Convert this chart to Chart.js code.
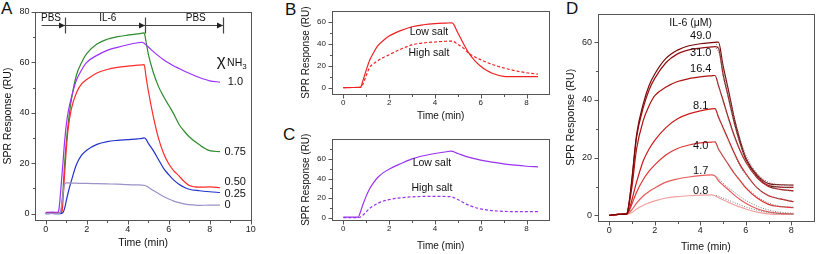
<!DOCTYPE html>
<html>
<head>
<meta charset="utf-8">
<script src="https://cdn.jsdelivr.net/npm/chart.js@4"></script>
<style>
  body { margin: 0; background: #fff; width: 817px; height: 254px; position: relative; overflow: hidden; font-family: "Liberation Sans", Arial, sans-serif; }
  canvas { position: absolute; }
  .tag { position: absolute; font-size: 17px; line-height: 1; color: #111; }
</style>
</head>
<body>
<div class="tag" style="left:1px;top:0px">A</div>
<div class="tag" style="left:285px;top:1px">B</div>
<div class="tag" style="left:283px;top:126px">C</div>
<div class="tag" style="left:566px;top:0px">D</div>
<canvas id="cA" width="262" height="254" style="left:0;top:0"></canvas>
<canvas id="cB" width="290" height="125" style="left:262px;top:0"></canvas>
<canvas id="cC" width="290" height="129" style="left:262px;top:125px"></canvas>
<canvas id="cD" width="261" height="254" style="left:556px;top:0"></canvas>
<script>
// --- panel A: SPR response vs NH3 fraction ---
const tA = [0, 0.3, 0.6, 0.65, 0.7, 0.75, 0.8, 0.85, 0.9, 0.95, 1.0, 1.1, 1.25, 1.5, 1.75, 2.0, 2.5, 3.0, 3.5, 4.0, 4.5, 4.7, 4.8, 4.9, 5.0, 5.25, 5.5, 5.75, 6.0, 6.25, 6.5, 6.75, 7.0, 7.5, 8.0, 8.5];
const aNH100 = [0.5, 0.6, 0.5, 2, 6, 11, 16, 21, 26.5, 31, 35, 40.5, 46, 53, 57, 60, 62.8, 64.8, 66, 67, 67.8, 68, 67.6, 66.9, 66.2, 64.3, 62.6, 61.1, 59.8, 58.6, 57.6, 56.6, 55.7, 54, 52.7, 52.2];
const aNH075 = [0.2, 0.4, 0.2, 0.2, 0.3, 0.6, 5, 10, 17, 23, 28, 36, 45, 55, 60, 63.5, 67.3, 69.2, 70.2, 70.8, 71.3, 71.6, 71.7, 68, 63.5, 56, 50.5, 46.5, 43, 39.5, 35.5, 32.8, 30.5, 27.3, 25, 24.6];
const aNH050 = [0.1, 0.2, 0.1, 0.1, 0.1, 0.2, 1, 6, 13, 19, 25, 34, 41.5, 48, 51.5, 53.2, 55.8, 57.2, 58, 58.5, 58.9, 59, 59.1, 54, 49, 38.5, 30, 24, 19.8, 17, 15, 12.8, 11.2, 10.5, 10.6, 10.3];
const aNH025 = [0, 0.1, 0, 0, 0, 0, 0.2, 0.5, 1.5, 3, 5, 8.5, 13, 19.5, 23.2, 25.2, 27.5, 28.6, 29.1, 29.4, 29.7, 29.9, 30.1, 29.5, 28, 25, 21.5, 18, 15.5, 13.3, 11.7, 10.5, 9.7, 9.1, 8.7, 8.4];
const aNH000 = [0, 0.1, 0, 0, 0.3, 2, 5, 8, 11, 12, 12.2, 12.2, 12.1, 12.1, 12, 12, 11.9, 11.8, 11.7, 11.5, 11.4, 11.3, 11.2, 11, 10.5, 9.2, 8, 6.8, 5.8, 5, 4.4, 3.9, 3.6, 3.3, 3.4, 3.4];
const aLabels = ['1.0', '0.75', '0.50', '0.25', '0'];
const aLabelX = [8.88, 8.72, 8.72, 8.72, 8.72];
const aLabelY = [52.2, 24.4, 12.6, 7.8, 3.4];
const phaseNames = ['PBS', 'IL-6', 'PBS'];
const phaseNameX = [0.26, 3.03, 7.32];
const phaseEdges = [0.94, 4.84, 8.63];
const phaseStart = -0.2;

// --- panel B / C: low vs high salt ---
const tB = [0, 0.4, 0.75, 0.85, 1.0, 1.15, 1.3, 1.5, 1.75, 2.0, 2.5, 3.0, 3.5, 4.0, 4.5, 4.75, 5.0, 5.25, 5.5, 5.75, 6.0, 6.25, 6.5, 7.0, 7.5, 8.0, 8.5];
const bLow = [0, 0.2, 0.3, 6, 16, 25, 31, 38, 43, 47, 52, 55.5, 57.3, 58.3, 58.8, 59, 50, 40, 31, 24.5, 19.5, 15.8, 13.2, 10.4, 10, 10, 10.1];
const bHigh = [0, 0.2, 0.3, 3, 11, 18.5, 21.5, 24.5, 27.5, 30, 35, 39, 40.8, 41.6, 42.3, 42.4, 39.5, 36, 31, 28, 25.5, 23.2, 21.2, 18, 15.5, 13.6, 12.3];
const tC = [0, 0.4, 0.65, 0.75, 0.85, 1.0, 1.15, 1.3, 1.5, 1.75, 2.0, 2.5, 3.0, 3.5, 4.0, 4.5, 4.7, 5.0, 5.5, 6.0, 6.5, 7.0, 7.5, 8.0, 8.5];
const cLow = [0.5, 0.5, 0.6, 6, 13, 22, 29.5, 35, 41, 46, 49.5, 55, 60, 63.2, 65.5, 67.3, 68, 65.5, 61.5, 58.7, 56.7, 55, 53.6, 52.5, 51.8];
const cHigh = [0, 0, 0, 0.8, 2.5, 6, 9.5, 12, 14.5, 17, 18.5, 20.3, 21.3, 21.7, 21.8, 21.6, 21.4, 18.5, 12.5, 9, 7.3, 6.5, 6.2, 6.1, 6.1];

// --- panel D: IL-6 concentration series + fits ---
const tD = [0, 0.4, 0.75, 0.8, 0.9, 1.0, 1.2, 1.5, 1.75, 2.0, 2.5, 3.0, 3.5, 4.0, 4.5, 4.65, 4.8, 5.0, 5.25, 5.5, 5.75, 6.0, 6.5, 7.0, 7.5, 8.1];
const d490 = [0, 0.3, 0.5, 1, 6, 13, 28, 38.8, 45, 49, 54.5, 57.3, 58.8, 59.5, 59.9, 60, 60.1, 52, 43, 33.5, 26, 20, 14, 11, 10.6, 10.5];
const d310 = [0, 0.3, 0.5, 1, 6, 12.5, 27, 37.5, 43.5, 47.5, 53, 56, 57.4, 58, 58.4, 58.5, 58, 49, 40.5, 32, 25, 19.5, 13.5, 10.3, 9.8, 9.7];
const d164 = [0, 0.3, 0.5, 1, 5, 10, 23, 33, 38, 41.5, 44.5, 46.4, 47.4, 48, 48.4, 48.5, 45, 40, 33.5, 27.5, 22.5, 18.5, 13, 10, 9, 8.5];
const d081 = [0, 0.3, 0.5, 0.8, 2.5, 5.5, 11.5, 19, 23, 26, 30.5, 33.5, 35.2, 36.2, 36.9, 37, 34, 30.5, 26, 21.5, 17.5, 14.5, 9.5, 6.8, 5.7, 4.7];
const d040 = [0, 0.3, 0.4, 0.6, 2, 4, 8, 12.5, 15.3, 17.5, 21, 23.2, 24.4, 25.1, 25.4, 25.5, 23, 20.5, 17.5, 14.5, 12, 9.5, 6, 3.8, 3.0, 2.7];
const d017 = [0, 0.3, 0.3, 0.5, 1.2, 2, 4.2, 6.8, 8.3, 9.5, 11.5, 12.6, 13.3, 13.8, 14, 13.6, 12, 10.5, 8.8, 7, 5.5, 4.2, 2.3, 1.2, 0.7, 0.5];
const d008 = [0, 0.3, 0.3, 0.4, 0.7, 1, 2.2, 3.5, 4.3, 5, 6, 6.5, 6.8, 7, 7.1, 6.8, 6.1, 5.4, 4.5, 3.6, 2.9, 2.2, 1.1, 0.5, 0.3, 0.3];
const tFit = [4.7, 4.85, 5.0, 5.25, 5.5, 5.75, 6.0, 6.5, 7.0, 7.5, 8.1];
const f490 = [59.5, 57, 51, 42, 33.5, 26.5, 21, 14.5, 11.5, 10.5, 10.2];
const f310 = [58, 55.5, 49, 40, 31.5, 25, 20, 14, 10.8, 9.8, 9.5];
const f164 = [48, 44, 39.5, 33, 27, 22.5, 18.5, 13.2, 10.2, 9, 8.3];
const f081 = [36.5, 33.5, 30, 25.5, 21, 17, 14, 9.5, 7, 5.8, 4.9];
const f040 = [25, 22.5, 20.5, 17.5, 14.8, 12.3, 10, 6.5, 4.3, 3.2, 2.8];
const f017 = [13.7, 12.5, 11.2, 9.5, 8, 6.5, 5.2, 3.2, 1.9, 1.1, 0.7];
const f008 = [6.9, 6.5, 6, 5.2, 4.4, 3.6, 2.9, 1.8, 1.0, 0.6, 0.4];
const dLabels = ['49.0', '31.0', '16.4', '8.1', '4.0', '1.7', '0.8'];
const dLabelY = [62.3, 56.2, 50.6, 37.9, 24.1, 15.5, 8.5];

const FONT = '"Liberation Sans", Arial, sans-serif';

function xy(t, v) { return t.map((x, i) => ({ x: x, y: v[i] })); }

function line(t, v, color, extra) {
    return Object.assign({
        data: xy(t, v), borderColor: color, borderWidth: 1.2, pointRadius: 0,
        fill: false, cubicInterpolationMode: 'monotone'
    }, extra || {});
}

// frame + outward ticks (major long, minor short)
const boxPlugin = {
    id: 'box',
    afterDraw(chart) {
        const { ctx, chartArea: a, scales } = chart;
        const L = Math.round(a.left) + 0.5, B = Math.round(a.bottom) + 0.5;
        ctx.save();
        ctx.strokeStyle = '#555';
        ctx.lineWidth = 1;
        ctx.strokeRect(L, Math.round(a.top) + 0.5, Math.round(a.right) - Math.round(a.left), Math.round(a.bottom) - Math.round(a.top));
        ctx.beginPath();
        scales.x.ticks.forEach(t => {
            const p = Math.round(scales.x.getPixelForValue(t.value)) + 0.5;
            const len = t.label ? 4 : 2.5;
            ctx.moveTo(p, B); ctx.lineTo(p, B + len);
        });
        scales.y.ticks.forEach(t => {
            const p = Math.round(scales.y.getPixelForValue(t.value)) + 0.5;
            const len = t.label ? 4 : 2.5;
            ctx.moveTo(L, p); ctx.lineTo(L - len, p);
        });
        ctx.stroke();
        ctx.restore();
    }
};

function textPlugin(items) {
    return {
        id: 'txt',
        afterDatasetsDraw(chart) {
            const { ctx, scales } = chart;
            ctx.save();
            items.forEach(it => {
                ctx.font = it.size + 'px ' + FONT;
                ctx.fillStyle = '#111';
                ctx.textAlign = it.align || 'center';
                ctx.textBaseline = 'middle';
                ctx.fillText(it.text, scales.x.getPixelForValue(it.x), scales.y.getPixelForValue(it.y));
            });
            ctx.restore();
        }
    };
}

// PBS | IL-6 | PBS bar and the chi NH3 heading in panel A
const phasePlugin = {
    id: 'phase',
    afterDatasetsDraw(chart) {
        const { ctx, scales: { x, y } } = chart;
        const py = Math.round(y.getPixelForValue(74.7)) + 0.5;
        ctx.save();
        ctx.strokeStyle = '#444';
        ctx.fillStyle = '#222';
        ctx.lineWidth = 1.2;
        ctx.beginPath();
        ctx.moveTo(x.getPixelForValue(phaseStart), py);
        ctx.lineTo(x.getPixelForValue(phaseEdges[2]), py);
        phaseEdges.forEach(e => {
            const px = Math.round(x.getPixelForValue(e)) + 0.5;
            ctx.moveTo(px, py - 8); ctx.lineTo(px, py + 8);
        });
        ctx.stroke();
        phaseEdges.forEach(e => {
            const px = Math.round(x.getPixelForValue(e));
            ctx.beginPath();
            ctx.moveTo(px, py); ctx.lineTo(px - 6, py - 3); ctx.lineTo(px - 6, py + 3);
            ctx.closePath(); ctx.fill();
        });
        ctx.font = '10px ' + FONT;
        ctx.textAlign = 'center';
        ctx.textBaseline = 'middle';
        ctx.fillStyle = '#111';
        phaseNames.forEach((n, i) => ctx.fillText(n, x.getPixelForValue(phaseNameX[i]), y.getPixelForValue(77.6)));

        // χ NH3
        const cx = x.getPixelForValue(8.34), cy = y.getPixelForValue(60.3);
        ctx.textAlign = 'left';
        ctx.textBaseline = 'alphabetic';
        ctx.font = '17px ' + FONT;
        ctx.fillText('χ', cx, cy + 4);
        const w = ctx.measureText('χ').width;
        ctx.font = '10.5px ' + FONT;
        ctx.fillText('NH', cx + w + 1.5, cy + 4.5);
        const w2 = ctx.measureText('NH').width;
        ctx.font = '8px ' + FONT;
        ctx.fillText('3', cx + w + 1.5 + w2, cy + 7);
        ctx.restore();
    }
};

function panel(id, datasets, o) {
    const evens = v => (Math.abs(v % 2) < 1e-6 ? String(v) : '');
    new Chart(document.getElementById(id), {
        type: 'line',
        data: { datasets: datasets },
        plugins: [boxPlugin, textPlugin(o.texts)].concat(o.extra || []),
        options: {
            responsive: false, animation: false, devicePixelRatio: 1,
            layout: { padding: o.pad },
            plugins: { legend: { display: false }, tooltip: { enabled: false } },
            scales: {
                x: {
                    type: 'linear', min: o.xmin, max: o.xmax,
                    afterBuildTicks: s => { s.ticks = o.xticks.map(v => ({ value: v })); },
                    afterFit: s => { s.height = o.xh; },
                    grid: { display: false, drawTicks: false }, border: { display: false },
                    ticks: { autoSkip: false, maxRotation: 0, padding: 4, color: '#222', font: { family: FONT, size: o.tick }, callback: evens },
                    title: { display: true, text: 'Time (min)', color: '#111', font: { family: FONT, size: o.title }, padding: { top: 0, bottom: o.xtb } }
                },
                y: {
                    type: 'linear', min: o.ymin, max: o.ymax,
                    afterBuildTicks: s => { s.ticks = o.yticks.map(v => ({ value: v })); },
                    afterFit: s => { s.width = o.yw; },
                    grid: { display: false, drawTicks: false }, border: { display: false },
                    ticks: { autoSkip: false, padding: 6, color: '#222', font: { family: FONT, size: o.tick }, callback: v => (v % 20 === 0 ? String(v) : '') },
                    title: { display: true, text: 'SPR Response (RU)', color: '#111', font: { family: FONT, size: o.title }, padding: { top: 0, bottom: 0 } }
                }
            }
        }
    });
}

panel('cA', [
    line(tA, aNH000, '#9a92c8'),
    line(tA, aNH025, '#2233cc'),
    line(tA, aNH050, '#ff2a2a'),
    line(tA, aNH100, '#9b30ff'),
    line(tA, aNH075, '#2e8b2e')
], {
    pad: { left: 2, top: 12, right: 11.3, bottom: 0 }, yw: 33.45, xh: 34,
    xmin: -0.5, xmax: 10, ymin: -2.5, ymax: 80,
    xticks: [0, 1, 2, 3, 4, 5, 6, 7, 8, 9, 10], yticks: [0, 10, 20, 30, 40, 50, 60, 70, 80],
    tick: 9, title: 10.5, xtb: 4.7,
    texts: aLabels.map((t, i) => ({ text: t, x: aLabelX[i], y: aLabelY[i], size: 11, align: 'left' })),
    extra: [phasePlugin]
});

panel('cB', [
    line(tB, bLow, '#ee2222'),
    line(tB, bHigh, '#ee2222', { borderDash: [3, 2] })
], {
    pad: { left: 38.7, top: 10, right: 2.6, bottom: 0 }, yw: 31.15, xh: 30.7,
    xmin: -0.5, xmax: 9, ymin: -6, ymax: 70,
    xticks: [0, 1, 2, 3, 4, 5, 6, 7, 8], yticks: [0, 10, 20, 30, 40, 50, 60],
    tick: 8, title: 10, xtb: 2.3,
    texts: [
        { text: 'Low salt', x: 3.74, y: 50.4, size: 10.5 },
        { text: 'High salt', x: 3.74, y: 31.5, size: 10.5 }
    ]
});

panel('cC', [
    line(tC, cLow, '#9933ee'),
    line(tC, cHigh, '#9933ee', { borderDash: [3, 2] })
], {
    pad: { left: 38.7, top: 14.3, right: 2.6, bottom: 0 }, yw: 31.15, xh: 33.85,
    xmin: -0.5, xmax: 9, ymin: -2.5, ymax: 80,
    xticks: [0, 1, 2, 3, 4, 5, 6, 7, 8], yticks: [0, 10, 20, 30, 40, 50, 60, 70],
    tick: 8, title: 10, xtb: 2,
    texts: [
        { text: 'Low salt', x: 3.87, y: 55.5, size: 10.5 },
        { text: 'High salt', x: 3.87, y: 30.6, size: 10.5 }
    ]
});

const fitStyle = { borderColor: '#7a7a7a', borderWidth: 1, borderDash: [1, 1.5] };
panel('cD', [
    line(tFit, f490, '#7a7a7a', fitStyle),
    line(tFit, f310, '#7a7a7a', fitStyle),
    line(tFit, f164, '#7a7a7a', fitStyle),
    line(tFit, f081, '#7a7a7a', fitStyle),
    line(tFit, f040, '#7a7a7a', fitStyle),
    line(tFit, f017, '#7a7a7a', fitStyle),
    line(tFit, f008, '#7a7a7a', fitStyle),
    line(tD, d490, '#7a0a0a'),
    line(tD, d310, '#960f0f'),
    line(tD, d164, '#b01212'),
    line(tD, d081, '#cc1a1a'),
    line(tD, d040, '#dd3535'),
    line(tD, d017, '#e65a5a'),
    line(tD, d008, '#f0a0a0')
], {
    pad: { left: 9.1, top: 13.5, right: 3, bottom: 0 }, yw: 32.8, xh: 32.9,
    xmin: -0.5, xmax: 9, ymin: -2, ymax: 70,
    xticks: [0, 1, 2, 3, 4, 5, 6, 7, 8], yticks: [0, 10, 20, 30, 40, 50, 60],
    tick: 9, title: 10.5, xtb: 0.4,
    texts: [{ text: 'IL-6 (μM)', x: 3.58, y: 66.8, size: 10.5 }].concat(
        dLabels.map((t, i) => ({ text: t, x: 4.02, y: dLabelY[i], size: 11 })))
});
</script>
</body>
</html>
